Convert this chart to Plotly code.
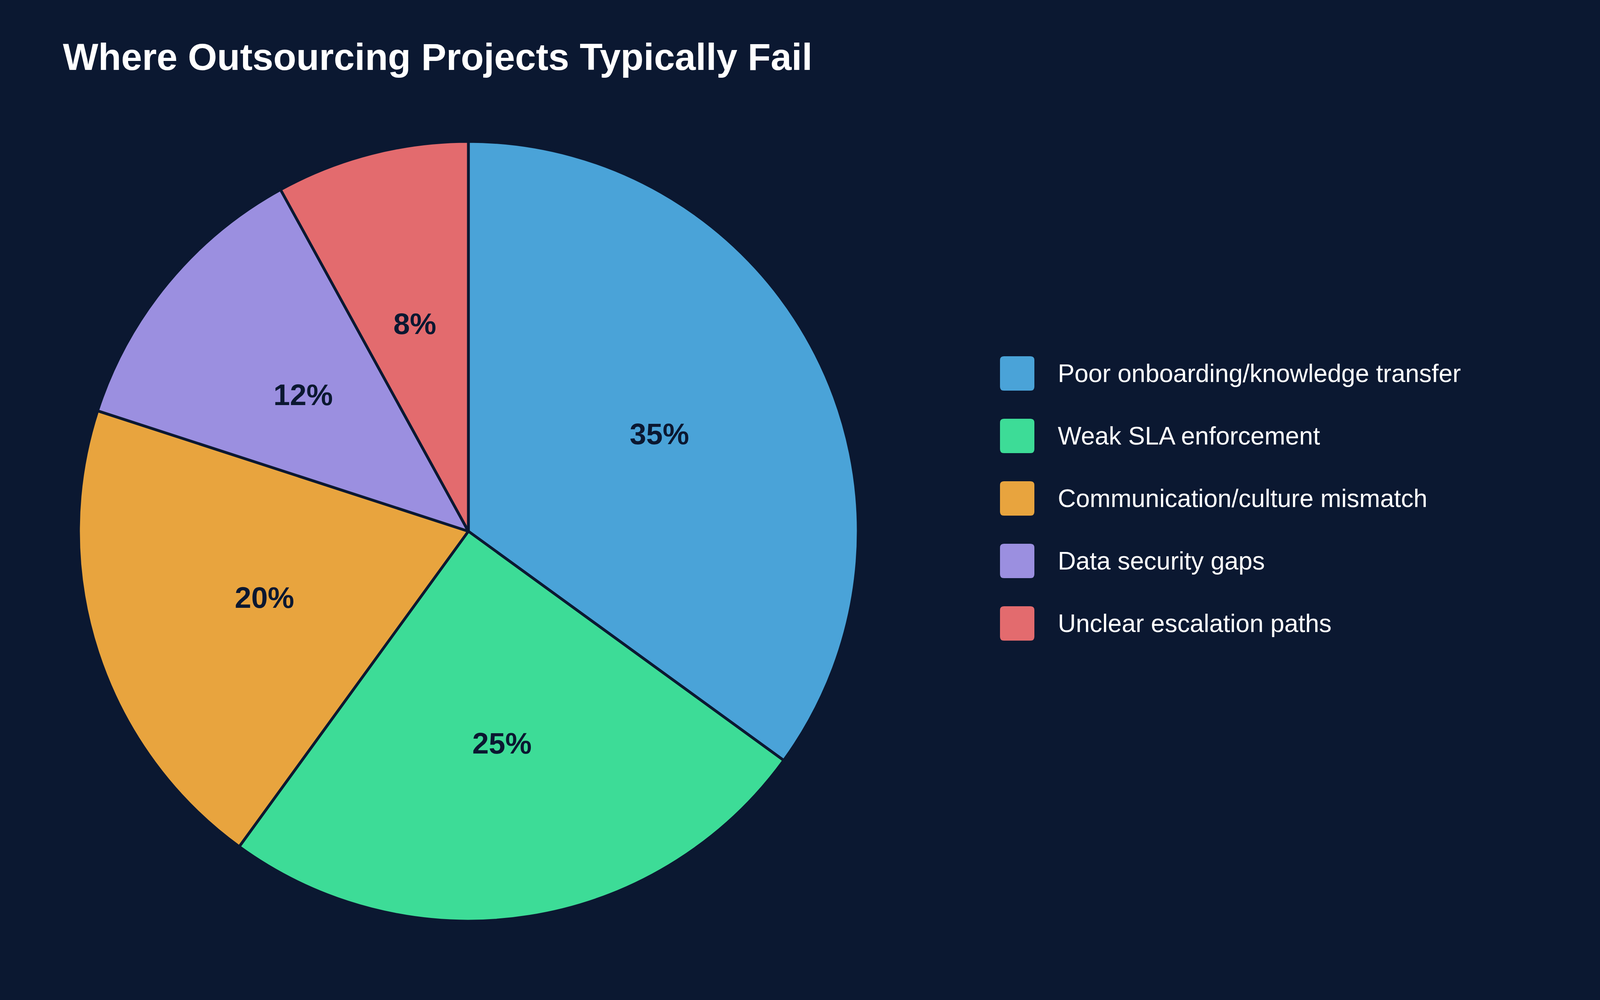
import math
import plotly.graph_objects as go

# ---- data ----
categories = [
    "Poor onboarding/knowledge transfer",
    "Weak SLA enforcement",
    "Communication/culture mismatch",
    "Data security gaps",
    "Unclear escalation paths",
]
values = [35, 25, 20, 12, 8]
colors = ["#4AA3D8", "#3DDC97", "#E8A43E", "#9B8FE0", "#E36B6E"]
title_text = "Where Outsourcing Projects Typically Fail"

# ---- style ----
W, H = 4200, 2560
BG = "#0B1831"
FONT = "Liberation Sans, Arial, Helvetica, sans-serif"

# pie geometry in pixels
CX, CY, R = 1199, 1360, 998
LABEL_FRAC = 0.55

fig = go.Figure()
fig.add_trace(go.Pie(
    labels=categories,
    values=values,
    sort=False,
    direction="clockwise",
    rotation=0,
    marker=dict(colors=colors, line=dict(color=BG, width=7)),
    textinfo="none",
    hoverinfo="label+percent",
    domain=dict(x=[(CX - R) / W, (CX + R) / W],
                y=[(H - (CY + R)) / H, (H - (CY - R)) / H]),
    showlegend=False,
))

annotations = []
shapes = []

# percentage labels at a fixed fraction of the radius along each slice's mid-angle
total = sum(values)
cum = 0
for v in values:
    mid = 2 * math.pi * (cum + v / 2) / total
    cum += v
    px = CX + LABEL_FRAC * R * math.sin(mid)
    py = CY - LABEL_FRAC * R * math.cos(mid)
    annotations.append(dict(
        x=px / W, y=1 - py / H, xref="paper", yref="paper",
        xanchor="center", yanchor="middle", showarrow=False,
        text=f"{v / total * 100:.0f}%",
        font=dict(family=FONT, size=76, color=BG, weight="bold"),
    ))

# custom legend (rounded swatches + labels), built from the category lists
sw = 88
rad = 10
x0px = 2560
for i, (cat, col) in enumerate(zip(categories, colors)):
    cy = 956 + i * 160
    x0, x1 = x0px / W, (x0px + sw) / W
    y0, y1 = 1 - (cy + sw / 2) / H, 1 - (cy - sw / 2) / H
    rx, ry = rad / W, rad / H
    path = (
        f"M {x0 + rx},{y1} L {x1 - rx},{y1} Q {x1},{y1} {x1},{y1 - ry} "
        f"L {x1},{y0 + ry} Q {x1},{y0} {x1 - rx},{y0} "
        f"L {x0 + rx},{y0} Q {x0},{y0} {x0},{y0 + ry} "
        f"L {x0},{y1 - ry} Q {x0},{y1} {x0 + rx},{y1} Z"
    )
    shapes.append(dict(type="path", xref="paper", yref="paper", path=path,
                       fillcolor=col, line=dict(width=0)))
    annotations.append(dict(
        x=2706 / W, y=1 - cy / H, xref="paper", yref="paper",
        xanchor="left", yanchor="middle", showarrow=False,
        text=cat, font=dict(family=FONT, size=64, color="#FFFFFF"),
    ))

fig.update_layout(
    width=W, height=H,
    paper_bgcolor=BG, plot_bgcolor=BG,
    margin=dict(l=0, r=0, t=0, b=0),
    title=dict(
        text=title_text,
        x=161 / W, xanchor="left", xref="container",
        y=1 - 145 / H, yanchor="middle", yref="container",
        font=dict(family=FONT, size=96, color="#FFFFFF", weight="bold"),
    ),
    shapes=shapes,
    annotations=annotations,
    showlegend=False,
)

fig.write_html(
    "out.html",
    post_script=(
        "document.body.style.margin='0';"
        "document.body.style.padding='0';"
        "document.body.style.overflow='hidden';"
        "document.body.style.background='" + BG + "';"
    ),
)
